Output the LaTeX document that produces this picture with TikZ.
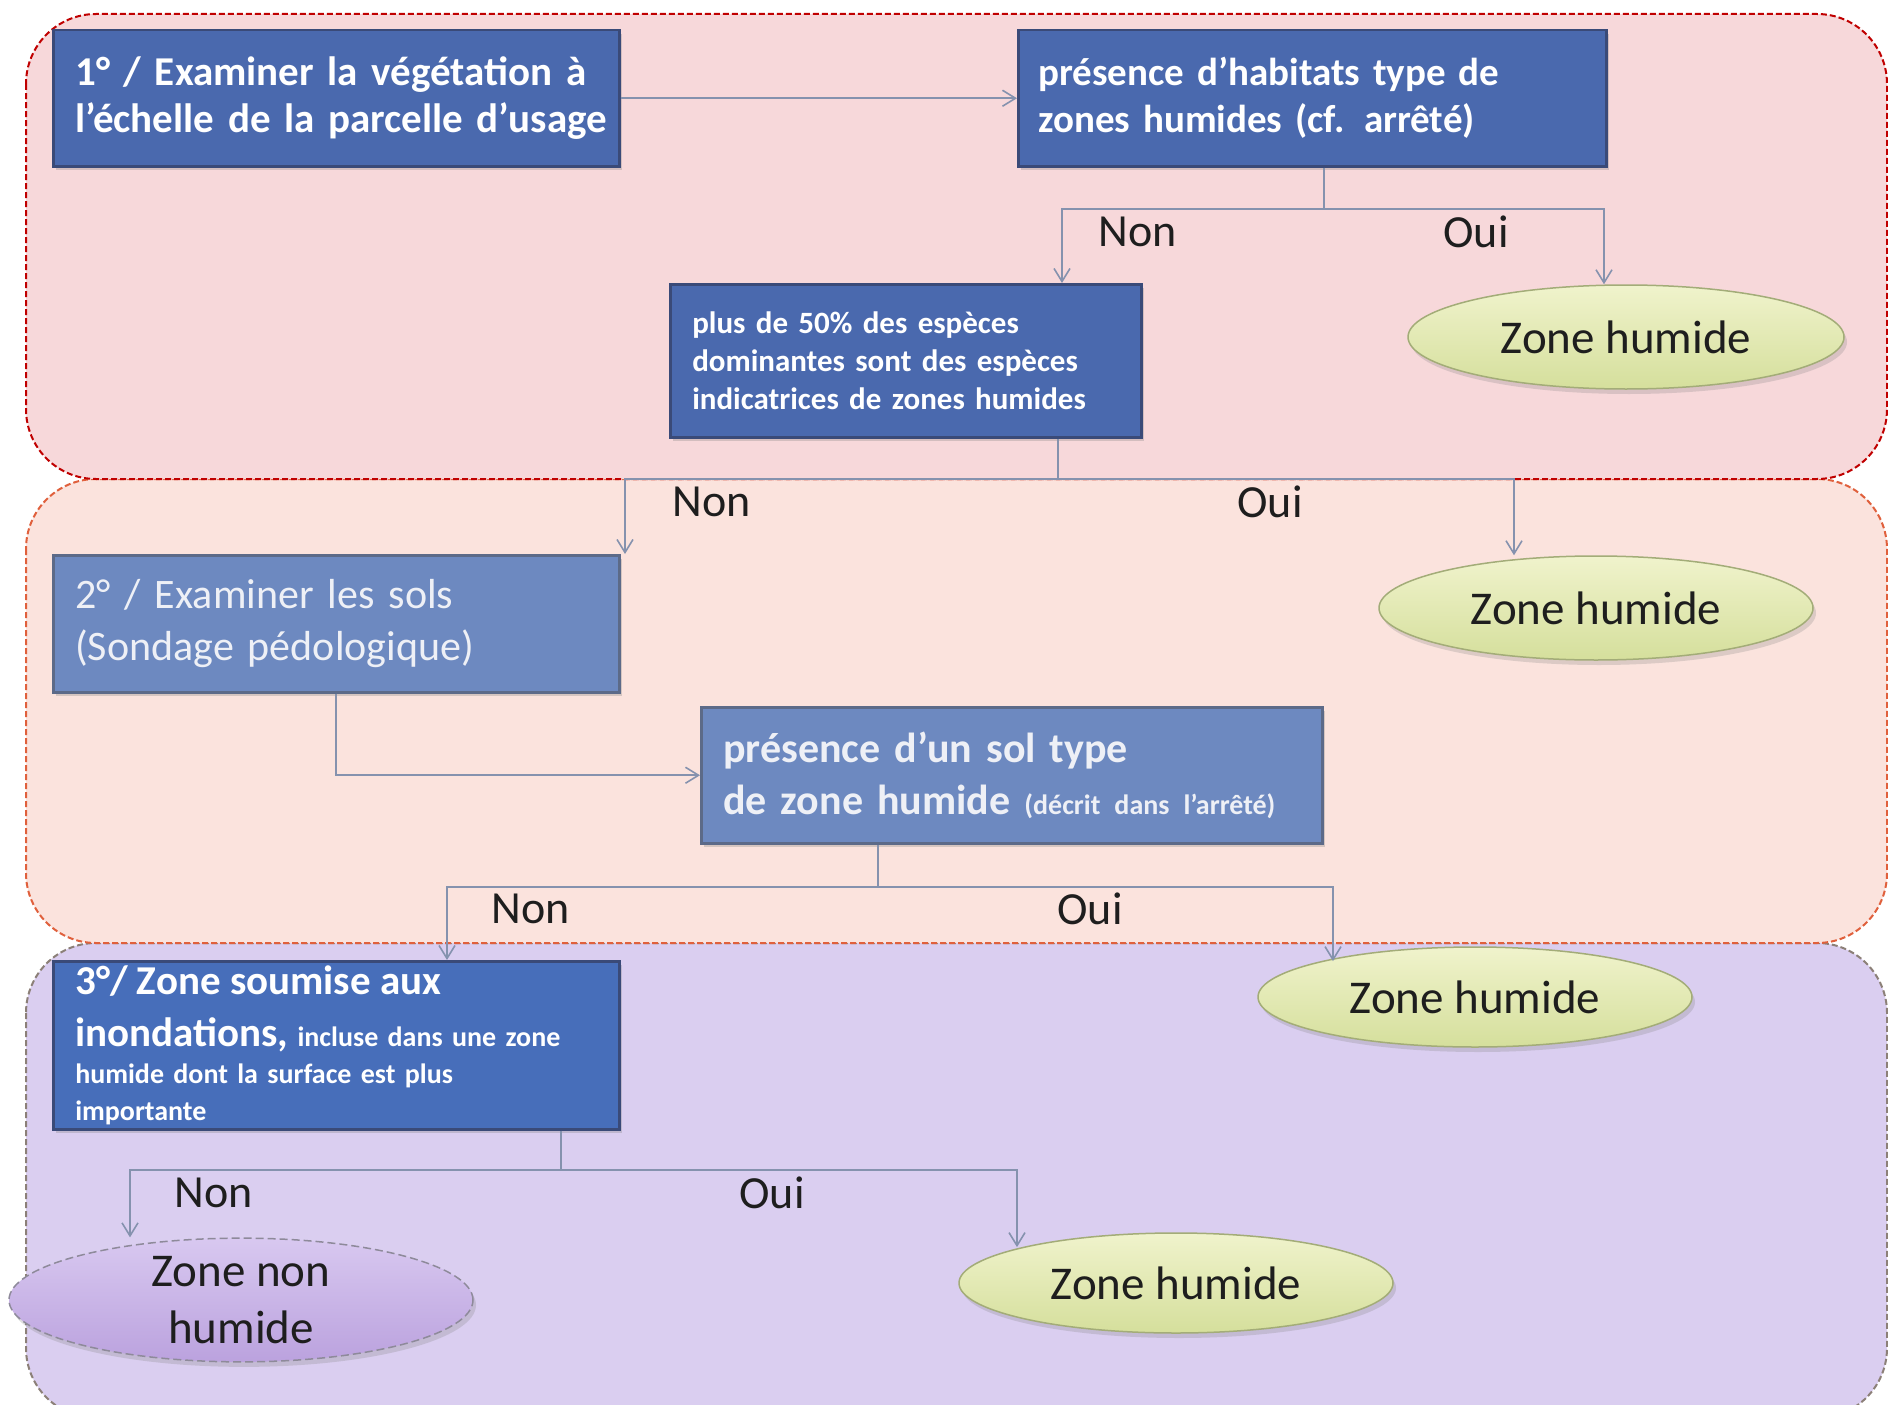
\documentclass[tikz,border=0pt]{standalone}
\usepackage{fontspec}
\setmainfont{Carlito}
\usetikzlibrary{shapes.geometric,arrows.meta,shadows}

\definecolor{pOneFill}{HTML}{F7D8DA}
\definecolor{pOneDraw}{HTML}{C00000}
\definecolor{pTwoFill}{HTML}{FBE3DD}
\definecolor{pTwoDraw}{HTML}{E0603C}
\definecolor{pThreeFill}{HTML}{DACEF0}
\definecolor{pThreeDraw}{HTML}{8C8078}
\definecolor{boxDark}{HTML}{4A69AE}
\definecolor{boxDarkDraw}{HTML}{3A4A78}
\definecolor{boxBright}{HTML}{476EBA}
\definecolor{boxLight}{HTML}{6D89C0}
\definecolor{boxLightDraw}{HTML}{5C6A88}
\definecolor{zoneTop}{HTML}{F0F3CC}
\definecolor{zoneBot}{HTML}{D5DF9C}
\definecolor{zoneDraw}{HTML}{A3AC78}
\definecolor{nonTop}{HTML}{D8C8F0}
\definecolor{nonBot}{HTML}{BBA2DE}
\definecolor{nonDraw}{HTML}{8E8A9A}
\definecolor{connC}{HTML}{8592AE}
\definecolor{lbl}{HTML}{1E1E1E}
\definecolor{softWhite}{HTML}{EEF0F6}

\begin{document}
\begin{tikzpicture}[x=1pt,y=-1pt,
  panel/.style={line width=2pt, dash pattern=on 6pt off 3pt, rounded corners=70pt},
  flowbox/.style={rectangle, draw, line width=2.5pt, anchor=north west, align=left,
    inner xsep=22pt, inner ysep=0pt, text=white,
    drop shadow={opacity=0.3,shadow xshift=3pt,shadow yshift=-4pt}},
  boxdark/.style={flowbox, fill=boxDark, draw=boxDarkDraw},
  boxbright/.style={flowbox, fill=boxBright, draw=boxDarkDraw},
  boxlight/.style={flowbox, fill=boxLight, draw=boxLightDraw, text=softWhite},
  zone/.style={ellipse, draw=zoneDraw, line width=1.5pt, top color=zoneTop, bottom color=zoneBot,
    inner sep=0pt, text=lbl, font=\fontsize{47}{57}\selectfont,
    drop shadow={opacity=0.25,shadow xshift=3pt,shadow yshift=-5pt}},
  nonzone/.style={ellipse, draw=nonDraw, line width=1.5pt, dash pattern=on 8pt off 4pt,
    top color=nonTop, bottom color=nonBot, inner sep=0pt, text=lbl, align=center,
    font=\fontsize{47}{57}\selectfont,
    drop shadow={opacity=0.25,shadow xshift=3pt,shadow yshift=-5pt}},
  lab/.style={text=lbl, font=\fontsize{46}{55}\selectfont, inner sep=0pt},
  conn/.style={draw=connC, line width=1.6pt},
  arr/.style={conn, -{Straight Barb[length=13pt,width=16pt]}}
]
\useasboundingbox (0,0) rectangle (1888,1405);
\clip (0,0) rectangle (1888,1405);
\fill[white] (0,0) rectangle (1888,1405);

% panels
\draw[panel, fill=pThreeFill, draw=pThreeDraw] (26,943) rectangle (1887,1418);
\draw[panel, fill=pTwoFill, draw=pTwoDraw] (26,479) rectangle (1887,943);
\draw[panel, fill=pOneFill, draw=pOneDraw] (26,14) rectangle (1887,479);

% boxes
\node[boxdark, minimum width=566pt, minimum height=136pt, text width=522pt,
  font=\fontsize{41}{47}\selectfont\bfseries] (A) at (52,29)
  {\mbox{1° / Examiner la végétation à}\\\mbox{l’échelle de la parcelle d’usage}};
\node[boxdark, minimum width=588pt, minimum height=136pt, text width=548pt, inner xsep=20pt,
  font=\fontsize{39}{47}\selectfont\bfseries] (B) at (1017,29)
  {\mbox{présence d’habitats type de}\\\mbox{zones humides (cf. arrêté)}};
\node[boxdark, minimum width=471pt, minimum height=153pt, text width=427pt,
  font=\fontsize{31}{38}\selectfont\bfseries] (C) at (669,283)
  {\mbox{plus de 50\% des espèces}\\\mbox{dominantes sont des espèces}\\\mbox{indicatrices de zones humides}};
\node[boxlight, minimum width=566pt, minimum height=137pt, text width=522pt,
  font=\fontsize{42}{52}\selectfont] (D) at (52,554)
  {\mbox{2° / Examiner les sols}\\\mbox{(Sondage pédologique)}};
\node[boxlight, minimum width=621pt, minimum height=136pt, text width=577pt,
  font=\fontsize{42}{52}\selectfont\bfseries] (E) at (700,706)
  {\mbox{présence d’un sol type}\\\mbox{de zone humide {\fontsize{28}{52}\selectfont (décrit dans l’arrêté)}}};
\node[boxbright, minimum width=566pt, minimum height=168pt, text width=522pt,
  font=\fontsize{28}{37}\selectfont\bfseries] (F) at (52,960)
  {\mbox{\fontsize{41}{37}\selectfont 3°/ Zone soumise aux}\\[15pt]\mbox{{\fontsize{41}{37}\selectfont inondations,}\ incluse dans une zone}\\\mbox{humide dont la surface est plus}\\\mbox{importante}};

% ellipses
\node[zone, minimum width=436pt, minimum height=104pt] (Z1) at (1626,337) {Zone humide};
\node[zone, minimum width=434pt, minimum height=104pt] (Z2) at (1596,608) {Zone humide};
\node[zone, minimum width=434pt, minimum height=100pt] (Z3) at (1475,997) {Zone humide};
\node[nonzone, minimum width=464pt, minimum height=108pt] (Z4) at (241,1300) {Zone non\\humide};
\node[zone, minimum width=434pt, minimum height=100pt] (Z5) at (1176,1283) {Zone humide};

% connectors
\draw[arr] (A) -- (B);

\coordinate (j1) at (1324,209);
\coordinate (j1l) at (1062,209);
\coordinate (j1r) at (1604,209);
\draw[conn] (j1 |- B.south) -- (j1);
\draw[arr] (j1) -- (j1l) -- (j1l |- C.north);
\draw[arr] (j1) -- (j1r) -- (j1r |- Z1.north);

\coordinate (j2) at (1058,479);
\coordinate (j2l) at (625,479);
\coordinate (j2r) at (1514,479);
\draw[conn] (j2 |- C.south) -- (j2);
\draw[arr] (j2) -- (j2l) -- (j2l |- D.north);
\draw[arr] (j2) -- (j2r) -- (j2r |- Z2.north);

\draw[arr] (D.south) |- (E.west);

\coordinate (j4) at (878,887);
\coordinate (j4l) at (447,887);
\coordinate (j4r) at (1333,887);
\draw[conn] (j4 |- E.south) -- (j4);
\draw[arr] (j4) -- (j4l) -- (j4l |- F.north);
\draw[arr] (j4) -- (j4r) -- (j4r |- Z3.north west);

\coordinate (j5) at (561,1170);
\coordinate (j5l) at (130,1170);
\coordinate (j5r) at (1017,1170);
\draw[conn] (j5 |- F.south) -- (j5);
\draw[arr] (j5) -- (j5l) -- (j5l |- Z4.north);
\draw[arr] (j5) -- (j5r) -- (j5r |- Z5.north west);

% labels
\node[lab] (n1) at (1138,232) {Non};
\node[lab] (o1) at (1476,232) {Oui};
\node[lab] (n2) at (712,502) {Non};
\node[lab] (o2) at (1270,502) {Oui};
\node[lab] (n3) at (531,909) {Non};
\node[lab] (o3) at (1090,909) {Oui};
\node[lab] (n4) at (214,1193) {Non};
\node[lab] (o4) at (772,1193) {Oui};
\end{tikzpicture}
\end{document}
